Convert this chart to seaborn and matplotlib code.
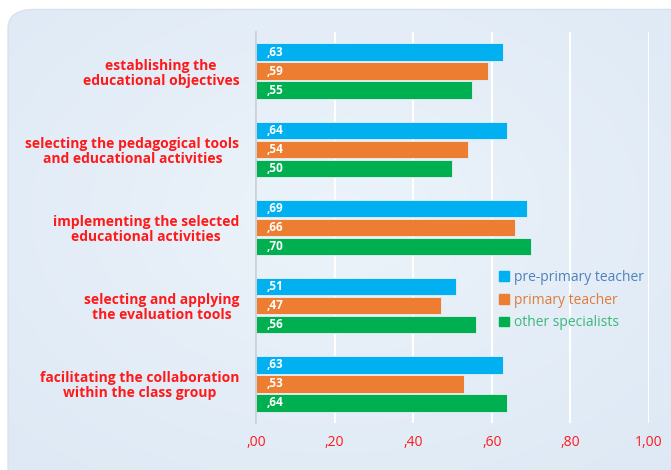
import numpy as np
import pandas as pd
import matplotlib
matplotlib.use("Agg")
import matplotlib.pyplot as plt
from matplotlib.patches import FancyBboxPatch
import seaborn as sns

# Competence areas (top to bottom)
activities = [
    "establishing the\neducational objectives",
    "selecting the pedagogical tools\nand educational activities",
    "implementing the selected\neducational activities",
    "selecting and applying\nthe evaluation tools",
    "facilitating the collaboration\nwithin the class group",
]
groups = ["pre-primary teacher", "primary teacher", "other specialists"]
pre_primary = [0.63, 0.64, 0.69, 0.51, 0.63]
primary = [0.59, 0.54, 0.66, 0.47, 0.53]
specialists = [0.55, 0.50, 0.70, 0.56, 0.64]
x_ticks = [0.0, 0.2, 0.4, 0.6, 0.8, 1.0]
x_tick_labels = [",00", ",20", ",40", ",60", ",80", "1,00"]

bar_colors = ["#00b0f0", "#ed7d31", "#00b050"]
legend_text_colors = ["#4f81bd", "#e07b39", "#3cb878"]
label_red = "#ff1a1a"

df = pd.DataFrame({
    "activity": np.repeat(activities, 3),
    "group": groups * len(activities),
    "value": np.ravel(np.column_stack([pre_primary, primary, specialists])),
})

sns.set_theme(style="white")
plt.rcParams["font.family"] = ["Open Sans", "DejaVu Sans"]

fig = plt.figure(figsize=(6.71, 4.70), dpi=100)
fig.patch.set_facecolor("white")

# Rounded light-blue panel behind the chart
bg_ax = fig.add_axes([0, 0, 1, 1], zorder=-2)
bg_ax.set_xlim(0, 1)
bg_ax.set_ylim(0, 1)
bg_ax.axis("off")
yy, xx = np.mgrid[0:1:200j, 0:1:300j]
r = np.sqrt(((xx - 0.5) / 0.8) ** 2 + ((yy - 0.55) / 0.8) ** 2)
c_in = np.array([0.925, 0.953, 0.980])
c_out = np.array([0.865, 0.910, 0.960])
t = np.clip(r, 0, 1)[..., None]
grad = c_in * (1 - t) + c_out * t
panel = FancyBboxPatch((0.012, -0.05), 1.05, 1.03,
                       boxstyle="round,pad=0,rounding_size=0.04",
                       transform=bg_ax.transAxes, facecolor="none",
                       edgecolor="#d8e2ee", linewidth=1.0)
bg_ax.add_patch(panel)
img = bg_ax.imshow(grad, extent=[0, 1, 0, 1], aspect="auto", origin="lower")
img.set_clip_path(panel)

ax = fig.add_axes([0.3815, 0.10, 0.5855, 0.832])
ax.set_facecolor("none")

sns.barplot(data=df, y="activity", x="value", hue="group", orient="h",
            order=activities, hue_order=groups, palette=bar_colors,
            saturation=1, width=0.73, gap=0.09, ax=ax, legend=False,
            edgecolor="#e8f0f8", linewidth=0.6, errorbar=None)

# value labels inside the bars
for container in ax.containers:
    for bar in container:
        v = bar.get_width()
        txt = f"{v:.2f}".lstrip("0").replace(".", ",")
        ax.text(0.028, bar.get_y() + bar.get_height() / 2, txt,
                color="white", fontsize=8.5, fontweight="bold",
                va="center", ha="left")

ax.set_xlim(0, 1.0)
ax.set_ylim(4.5, -0.5)
ax.set_xticks(x_ticks)
ax.set_xticklabels(x_tick_labels, color=label_red, fontsize=10)
ax.tick_params(axis="x", length=0, pad=9)
ax.tick_params(axis="y", length=0, pad=12)
ax.set_yticks(range(len(activities)))
ax.set_yticklabels(activities, color=label_red, fontsize=10,
                   fontweight="bold", multialignment="center",
                   linespacing=1.1)
ax.set_xlabel("")
ax.set_ylabel("")
ax.grid(axis="x", color="white", linewidth=1.5)
ax.set_axisbelow(True)
for side in ["top", "right", "bottom"]:
    ax.spines[side].set_visible(False)
ax.spines["left"].set_color("#c8ccd2")
ax.spines["left"].set_linewidth(1.2)

# legend with coloured text
handles = [plt.Rectangle((0, 0), 1, 1, color=c) for c in bar_colors]
leg = ax.legend(handles, groups, loc="upper left",
                bbox_to_anchor=(0.587, 0.423), frameon=False, fontsize=10,
                handlelength=0.7, handleheight=0.7, handletextpad=0.4,
                labelspacing=0.55)
for text, col in zip(leg.get_texts(), legend_text_colors):
    text.set_color(col)

fig.savefig("out.png", dpi=100)
